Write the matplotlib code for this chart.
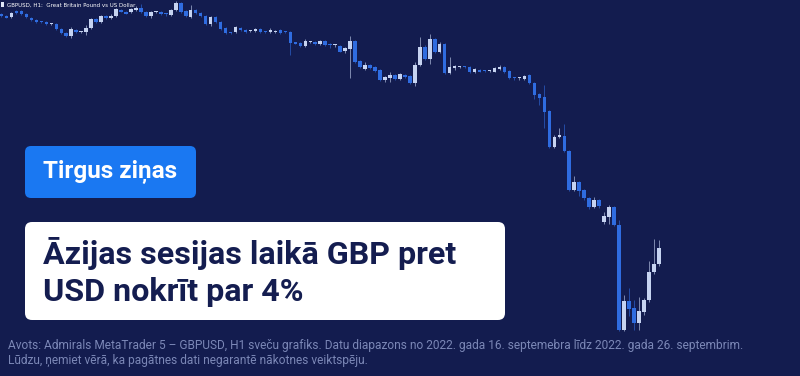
import numpy as np
import matplotlib.pyplot as plt
from matplotlib.patches import FancyBboxPatch

# GBPUSD H1, 16.09.2022 - 26.09.2022
opens = [1.1358, 1.1352, 1.1349, 1.1367, 1.1367, 1.1358, 1.1346, 1.1340, 1.1334, 1.1334,
         1.13265, 1.1328, 1.1313, 1.1301, 1.1292, 1.1310, 1.13025, 1.1304, 1.1316, 1.1343,
         1.1334, 1.1352, 1.1346, 1.1352, 1.1370, 1.1364, 1.1364, 1.1370, 1.1376, 1.1364,
         1.1352, 1.13625, 1.1364, 1.1358, 1.1355, 1.1370, 1.1391, 1.1367, 1.1349, 1.1370,
         1.1361, 1.1352, 1.1328, 1.1349, 1.1334, 1.1316, 1.1301, 1.1304, 1.1316, 1.1310,
         1.13055, 1.1307, 1.1313, 1.1304, 1.1304, 1.13025, 1.1310, 1.1304, 1.1304, 1.1271,
         1.1271, 1.1262, 1.12725, 1.1274, 1.1268, 1.1277, 1.1265, 1.12635, 1.1262, 1.1247,
         1.1253, 1.1277, 1.1217, 1.1193, 1.1205, 1.1199, 1.1190, 1.1160, 1.1166, 1.1175,
         1.1163, 1.1175, 1.1172, 1.1151, 1.1205, 1.1259, 1.1223, 1.1283, 1.1244, 1.1268,
         1.1181, 1.1196, 1.11975, 1.1199, 1.1199, 1.1184, 1.1190, 1.1187, 1.11855, 1.1184,
         1.1193, 1.1199, 1.1187, 1.1166, 1.11645, 1.1163, 1.1175, 1.1151, 1.1118, 1.1109,
         1.1067, 1.0959, 1.0989, 1.0992, 1.0947, 1.0830, 1.0854, 1.0830, 1.0806, 1.0779,
         1.0800, 1.0734, 1.0749, 1.0779, 1.0725, 1.0410, 1.0497, 1.0476, 1.0431, 1.0464,
         1.0500, 1.0584, 1.0608]
highs = [1.1361, 1.1355, 1.1364, 1.1370, 1.1370, 1.1361, 1.1349, 1.1343, 1.1337, 1.1337,
         1.1331, 1.1331, 1.1316, 1.1304, 1.1319, 1.1313, 1.1307, 1.1325, 1.1346, 1.1346,
         1.1355, 1.1355, 1.1358, 1.1376, 1.1373, 1.1367, 1.1376, 1.1382, 1.1388, 1.1367,
         1.1367, 1.1367, 1.1367, 1.1361, 1.1373, 1.1397, 1.1394, 1.1370, 1.1385, 1.1373,
         1.1364, 1.1355, 1.1352, 1.1352, 1.1337, 1.1319, 1.1304, 1.1322, 1.1319, 1.1313,
         1.1310, 1.1316, 1.1316, 1.1307, 1.1316, 1.1310, 1.1313, 1.1307, 1.1307, 1.1274,
         1.1274, 1.1283, 1.1277, 1.1277, 1.1280, 1.1280, 1.1271, 1.1268, 1.1265, 1.1259,
         1.1292, 1.1280, 1.1220, 1.1214, 1.1208, 1.1202, 1.1193, 1.1172, 1.1184, 1.1178,
         1.1181, 1.1178, 1.1175, 1.1214, 1.1289, 1.1265, 1.1298, 1.1286, 1.1274, 1.1271,
         1.1229, 1.1205, 1.1202, 1.1202, 1.1202, 1.1196, 1.1193, 1.1190, 1.1190, 1.1199,
         1.1205, 1.1202, 1.1190, 1.1169, 1.1169, 1.1175, 1.1178, 1.1154, 1.1121, 1.1145,
         1.1070, 1.0995, 1.1016, 1.1028, 1.0950, 1.0872, 1.0857, 1.0833, 1.0809, 1.0809,
         1.0803, 1.0764, 1.0785, 1.0782, 1.0740, 1.0515, 1.0536, 1.0500, 1.0509, 1.0506,
         1.0617, 1.0683, 1.0680]
lows = [1.1349, 1.1346, 1.1346, 1.1358, 1.1355, 1.1346, 1.1337, 1.1331, 1.1331, 1.1325,
        1.1325, 1.1310, 1.1298, 1.1289, 1.1286, 1.1301, 1.1301, 1.1295, 1.1313, 1.1331,
        1.1331, 1.1343, 1.1343, 1.1349, 1.1364, 1.1358, 1.1361, 1.1367, 1.1361, 1.1349,
        1.1346, 1.1361, 1.1355, 1.1352, 1.1352, 1.1367, 1.1361, 1.1349, 1.1346, 1.1358,
        1.1349, 1.1325, 1.1322, 1.1331, 1.1310, 1.1298, 1.1298, 1.1301, 1.1307, 1.1301,
        1.1304, 1.1304, 1.1301, 1.1301, 1.1301, 1.1301, 1.1298, 1.1301, 1.1235, 1.1268,
        1.1259, 1.1259, 1.1271, 1.1265, 1.1265, 1.1262, 1.1256, 1.1259, 1.1244, 1.1241,
        1.1166, 1.1211, 1.1196, 1.1190, 1.1193, 1.1184, 1.1157, 1.1154, 1.1154, 1.1160,
        1.1160, 1.1166, 1.1148, 1.1142, 1.1202, 1.1220, 1.1208, 1.1241, 1.1241, 1.1178,
        1.1178, 1.1190, 1.1196, 1.1196, 1.1181, 1.1181, 1.1184, 1.1184, 1.1184, 1.1184,
        1.1190, 1.1181, 1.1163, 1.1160, 1.1160, 1.1160, 1.1148, 1.1103, 1.1085, 1.1016,
        1.0956, 1.0956, 1.0986, 1.0944, 1.0827, 1.0827, 1.0812, 1.0800, 1.0773, 1.0776,
        1.0776, 1.0728, 1.0728, 1.0722, 1.0407, 1.0407, 1.0452, 1.0410, 1.0410, 1.0455,
        1.0494, 1.0578, 1.0602]
closes = [1.1352, 1.1346, 1.1361, 1.1361, 1.1358, 1.1349, 1.1340, 1.1334, 1.13325, 1.1328,
          1.1328, 1.1313, 1.1301, 1.1292, 1.1313, 1.1304, 1.1304, 1.1316, 1.1343, 1.1334,
          1.1352, 1.1346, 1.1352, 1.1373, 1.1364, 1.1358, 1.1373, 1.1376, 1.1364, 1.1352,
          1.1364, 1.1364, 1.1358, 1.13565, 1.1370, 1.1391, 1.1364, 1.1352, 1.1370, 1.1361,
          1.1352, 1.1328, 1.1349, 1.1334, 1.1313, 1.1301, 1.12995, 1.1319, 1.1310, 1.1304,
          1.1307, 1.1313, 1.1304, 1.13025, 1.1310, 1.1304, 1.1301, 1.13025, 1.1271, 1.12695,
          1.1262, 1.1277, 1.1274, 1.1268, 1.1277, 1.1265, 1.12635, 1.1265, 1.1244, 1.1256,
          1.1277, 1.1214, 1.1199, 1.1205, 1.1196, 1.1187, 1.1160, 1.1169, 1.1175, 1.1163,
          1.1178, 1.1169, 1.1151, 1.1205, 1.1259, 1.1223, 1.1283, 1.1244, 1.1268, 1.1181,
          1.1199, 1.1202, 1.1199, 1.11975, 1.1184, 1.1193, 1.1184, 1.11855, 1.1187, 1.1196,
          1.1199, 1.1184, 1.1166, 1.11645, 1.1166, 1.1172, 1.1151, 1.1115, 1.1106, 1.1064,
          1.0959, 1.0989, 1.0995, 1.0947, 1.0830, 1.0854, 1.0827, 1.0806, 1.0779, 1.0800,
          1.0782, 1.0752, 1.0779, 1.0725, 1.0410, 1.0497, 1.0473, 1.0431, 1.0467, 1.0500,
          1.0584, 1.0608, 1.0656]

chart_label = "GBPUSD, H1:  Great Britain Pound vs US Dollar"
tag_text = "Tirgus ziņas"
title_lines = ["Āzijas sesijas laikā GBP pret", "USD nokrīt par 4%"]
source_lines = [
    "Avots: Admirals MetaTrader 5 – GBPUSD, H1 sveču grafiks. Datu diapazons no 2022. gada 16. septemebra līdz 2022. gada 26. septembrim.",
    "Lūdzu, ņemiet vērā, ka pagātnes dati negarantē nākotnes veiktspēju.",
]

BG = '#131c4f'
BEAR = '#2f6ce0'
BULL = '#c6d3f1'
NAVY = '#141d50'

o = np.array(opens)
h = np.array(highs)
l = np.array(lows)
c = np.array(closes)
idx = np.arange(len(o))
up = c >= o
colors = np.where(up, BULL, BEAR)

fig = plt.figure(figsize=(8, 3.76), dpi=100)
fig.patch.set_facecolor(BG)

ax = fig.add_axes([0, 0, 1, 1])
ax.set_facecolor(BG)
ax.vlines(idx, l, h, colors=colors, linewidth=0.7, alpha=0.6)
ax.bar(idx, np.maximum(np.abs(c - o), 0.0004), bottom=np.minimum(o, c),
       width=0.7, color=colors, linewidth=0)
ax.set_xlim(-0.3, 160.34)
ax.set_ylim(1.0272, 1.1400)
ax.axis('off')

# overlay in pixel units for the banner elements
ov = fig.add_axes([0, 0, 1, 1])
ov.set_xlim(0, 800)
ov.set_ylim(376, 0)
ov.axis('off')
ov.patch.set_alpha(0)

ov.add_patch(FancyBboxPatch((0.5, 2), 3, 5, boxstyle="square,pad=0",
                            fc='#dfe6f7', ec='none'))
ov.text(7, 4.8, chart_label, color='white', fontsize=4, va='center',
        family='DejaVu Sans')

ov.add_patch(FancyBboxPatch((25, 146), 171, 52, boxstyle="round,pad=0,rounding_size=6",
                            fc='#1a78f2', ec='none'))
ov.text(43, 172, tag_text, color='white', fontsize=17.5, fontweight='bold',
        va='center', family='Roboto')

ov.add_patch(FancyBboxPatch((25, 222), 480, 98, boxstyle="round,pad=0,rounding_size=7",
                            fc='white', ec='none'))
ov.text(43, 264, title_lines[0], color=NAVY, fontsize=23.2, fontweight='bold',
        va='baseline', family='Roboto')
ov.text(43, 301, title_lines[1], color=NAVY, fontsize=23.2, fontweight='bold',
        va='baseline', family='Roboto')

ov.text(8, 346, source_lines[0], color='#7b87b6', fontsize=8.6, va='center',
        family=['Liberation Sans Narrow', 'Roboto', 'DejaVu Sans'])
ov.text(8, 360, source_lines[1], color='#7b87b6', fontsize=8.6, va='center',
        family=['Liberation Sans Narrow', 'Roboto', 'DejaVu Sans'])

plt.savefig("out.png", dpi=100, facecolor=BG)
